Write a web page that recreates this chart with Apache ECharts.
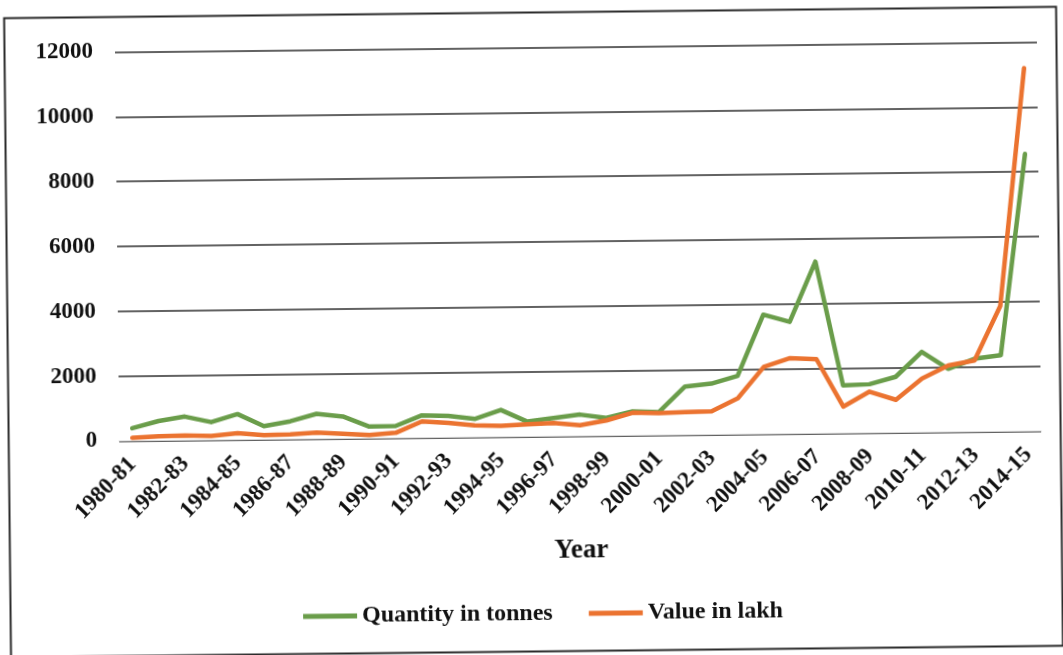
<!DOCTYPE html>
<html>
<head>
<meta charset="utf-8">
<script src="https://cdn.jsdelivr.net/npm/echarts@6/dist/echarts.min.js"></script>
<style>
  html, body { margin: 0; padding: 0; background: #ffffff; overflow: hidden; }
  #chart { width: 1063px; height: 655px; transform: rotate(-0.62deg); transform-origin: 50% 50%; }
</style>
</head>
<body>
<div id="chart"></div>
<script>
// Financial years 1980-81 .. 2014-15
const years = [
  '1980-81','1981-82','1982-83','1983-84','1984-85','1985-86','1986-87','1987-88',
  '1988-89','1989-90','1990-91','1991-92','1992-93','1993-94','1994-95','1995-96',
  '1996-97','1997-98','1998-99','1999-00','2000-01','2001-02','2002-03','2003-04',
  '2004-05','2005-06','2006-07','2007-08','2008-09','2009-10','2010-11','2011-12',
  '2012-13','2013-14','2014-15'
];

// Quantity in tonnes
const quantityTonnes = [
  390, 600, 730, 550, 790, 410, 550, 770, 680, 360, 370, 690, 660, 560, 830, 460,
  560, 660, 550, 740, 710, 1490, 1570, 1800, 3680, 3450, 5300, 1470, 1500, 1720,
  2480, 1950, 2250, 2350, 8550
];

// Value in lakh
const valueLakh = [
  90, 130, 150, 120, 200, 130, 150, 190, 150, 100, 160, 500, 450, 360, 340, 380,
  410, 330, 470, 700, 680, 700, 720, 1110, 2070, 2330, 2290, 820, 1270, 1010,
  1660, 2050, 2200, 3870, 11200
];

const yTicks = { min: 0, max: 12000, interval: 2000 };

const serif = '"Liberation Serif", "Times New Roman", serif';
const GREEN = '#6a9d4a';
const ORANGE = '#eb7330';

const chart = echarts.init(document.getElementById('chart'), null, { renderer: 'canvas' });

chart.setOption({
  backgroundColor: '#ffffff',
  animation: false,
  graphic: [{
    type: 'rect',
    left: 5, top: 10,
    shape: { width: 1052, height: 639 },
    style: { fill: 'none', stroke: '#2a2a2a', lineWidth: 2 },
    silent: true
  }],
  grid: { left: 118, right: 23, top: 47.5, bottom: 218.5, containLabel: false },
  legend: {
    top: 597,
    left: 295,
    icon: 'rect',
    itemWidth: 54,
    itemHeight: 5,
    itemGap: 36,
    textStyle: { fontFamily: serif, fontWeight: 'bold', fontSize: 24, color: '#111' },
    data: ['Quantity in tonnes', 'Value in lakh']
  },
  xAxis: {
    type: 'category',
    data: years,
    boundaryGap: true,
    name: 'Year',
    nameLocation: 'middle',
    nameGap: 101,
    nameTextStyle: { fontFamily: serif, fontWeight: 'bold', fontSize: 27, color: '#111' },
    axisLine: { show: true, lineStyle: { color: '#d4d4d4', width: 1 } },
    axisTick: { show: false },
    axisLabel: {
      interval: 1,
      rotate: 45,
      margin: 20,
      fontFamily: serif, fontWeight: 'bold', fontSize: 23, color: '#111'
    },
    splitLine: { show: false }
  },
  yAxis: {
    type: 'value',
    min: yTicks.min, max: yTicks.max, interval: yTicks.interval,
    axisLine: { show: false },
    axisTick: { show: false },
    axisLabel: {
      margin: 22,
      fontFamily: serif, fontWeight: 'bold', fontSize: 23, color: '#111',
      formatter: function (v) { return String(v); }
    },
    splitLine: {
      show: true,
      lineStyle: { color: '#2e2e2e', width: 1.5 }
    }
  },
  series: [
    {
      name: 'Quantity in tonnes',
      type: 'line',
      data: quantityTonnes,
      showSymbol: false,
      symbol: 'none',
      lineStyle: { color: GREEN, width: 4.5, cap: 'round', join: 'round' },
      itemStyle: { color: GREEN },
      z: 3
    },
    {
      name: 'Value in lakh',
      type: 'line',
      data: valueLakh,
      showSymbol: false,
      symbol: 'none',
      lineStyle: { color: ORANGE, width: 4.5, cap: 'round', join: 'round' },
      itemStyle: { color: ORANGE },
      z: 4
    }
  ]
});
</script>
</body>
</html>
